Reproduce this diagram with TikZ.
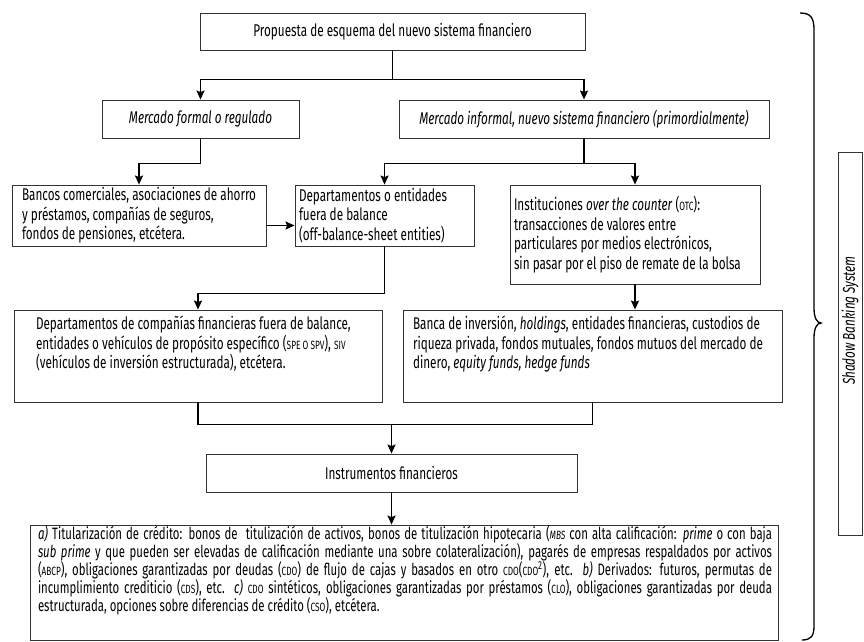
\documentclass[tikz,border=0pt]{standalone}
\usepackage{fontspec}
\setmainfont[FakeStretch=0.69]{Fira Sans}
\usetikzlibrary{arrows.meta}
\newcommand\ab[1]{{\fontsize{12}{12}\selectfont #1}}
\newcommand\lline[1]{\mbox{#1}\\}
\begin{document}
\begin{tikzpicture}[x=1pt,y=-1pt,
  font=\fontsize{17}{19.5}\selectfont,
  box/.style={draw=black!80, line width=0.9pt, inner sep=0pt},
  conn/.style={line width=1.6pt, draw=black},
  arr/.style={conn, -{Stealth[length=9pt,width=8pt,inset=1.5pt]}},
]
\useasboundingbox (0,0) rectangle (864,641);

\node[box, minimum width=385, minimum height=37] (top) at (392.5,31.5) {Propuesta de esquema del nuevo sistema financiero};
\node[box, minimum width=197, minimum height=38] (formal) at (200.5,119) {\itshape Mercado formal o regulado};
\node[box, minimum width=370, minimum height=38] (informal) at (584,119) {\itshape Mercado informal, nuevo sistema financiero (primordialmente)};

\node[box] (bancos) at (139,215.5)
 {\parbox[c][61pt][c]{254pt}{\leftskip=10pt\lline{Bancos comerciales, asociaciones de ahorro}\lline{y préstamos, compañías de seguros,}\mbox{fondos de pensiones, etcétera.}}};
\node[box] (dept) at (384.5,215.5)
 {\parbox[c][61pt][c]{179pt}{\leftskip=4pt\lline{Departamentos o entidades}\lline{fuera de balance}\mbox{(off-balance-sheet entities)}}};
\node[box] (inst) at (635,234.5)
 {\parbox[c][99pt][c]{250pt}{\leftskip=4pt\lline{Instituciones \emph{over the counter} (\ab{OTC}):}\lline{transacciones de valores entre}\lline{particulares por medios electrónicos,}\mbox{sin pasar por el piso de remate de la bolsa}}};

\node[box] (spv) at (198,356)
 {\parbox[c][92pt][t]{368pt}{\leftskip=22pt\vspace*{6pt}\lline{Departamentos de compañías financieras fuera de balance,}\lline{entidades o vehículos de propósito específico (\ab{SPE O SPV}), \ab{SIV}}\mbox{(vehículos de inversión estructurada), etcétera.}}};
\node[box] (banca) at (592.5,356)
 {\parbox[c][92pt][t]{379pt}{\leftskip=10pt\vspace*{6pt}\lline{Banca de inversión, \emph{holdings}, entidades financieras, custodios de}\lline{riqueza privada, fondos mutuales, fondos mutuos del mercado de}\mbox{dinero, \emph{equity funds, hedge funds}}}};

\node[box, minimum width=371, minimum height=38] (instr) at (391.5,473) {Instrumentos financieros};

\node[box] (bottom) at (404,582.5)
 {\parbox[c][115pt][t]{748pt}{\hspace*{8pt}\parbox[t]{734pt}{\fontsize{16.5}{18}\selectfont\vspace*{1pt}%
 \makebox[\linewidth][s]{\emph{a)} Titularización de crédito: bonos de \ titulización de activos, bonos de titulización hipotecaria (\ab{\itshape MBS} con alta calificación: \emph{prime} o con baja}\par
 \makebox[\linewidth][s]{\emph{sub prime} y que pueden ser elevadas de calificación mediante una sobre colateralización), pagarés de empresas respaldados por activos}\par
 \makebox[\linewidth][s]{(\ab{ABCP}), obligaciones garantizadas por deudas (\ab{CDO}) de flujo de cajas y basados en otro \ab{CDO}(\ab{CDO}\textsuperscript{2}), etc. \emph{b)} Derivados: futuros, permutas de}\par
 \makebox[\linewidth][s]{incumplimiento crediticio (\ab{CDS}), etc. \emph{c)} \ab{CDO} sintéticos, obligaciones garantizadas por préstamos (\ab{CLO}), obligaciones garantizadas por deuda}\par
 \mbox{estructurada, opciones sobre diferencias de crédito (\ab{CSO}), etcétera.}}}};

\node[box, minimum width=383, minimum height=24, rotate=90] (shadow) at (850,343.5) {\hspace*{46pt}\itshape Shadow Banking System};

\draw[arr] (top.south) -- ++(0,29) -| (formal.north);
\draw[arr] (top.south) -- ++(0,29) -| (informal.north);
\draw[arr] (formal.south) -- ++(0,25) -| (bancos.north);
\draw[arr] (informal.south) -- ++(0,25) -| (dept.north);
\draw[arr] (informal.south) -- ++(0,25) -| (inst.north);
\draw[arr] ([yshift=-10pt]bancos.east) -- ([yshift=-10pt]dept.west);
\draw[arr] (dept.south) -- ++(0,47) -| (spv.north);
\draw[arr] (inst.south) -- (inst.south |- banca.north);
\draw[conn] (spv.south) -- ++(0,22) coordinate (j1) -| (banca.south);
\draw[arr] (instr.north |- j1) -- (instr.north);
\draw[arr] (instr.south) -- (instr.south |- bottom.north);

\draw[line width=1.3pt] (800,13) .. controls (811,13) and (814,18) .. (814,30) -- (814,308)
  .. controls (814,318) and (817,323) .. (821,323)
  .. controls (817,323) and (814,328) .. (814,338) -- (814,626)
  .. controls (814,636) and (811,640) .. (802,640);
\end{tikzpicture}
\end{document}
